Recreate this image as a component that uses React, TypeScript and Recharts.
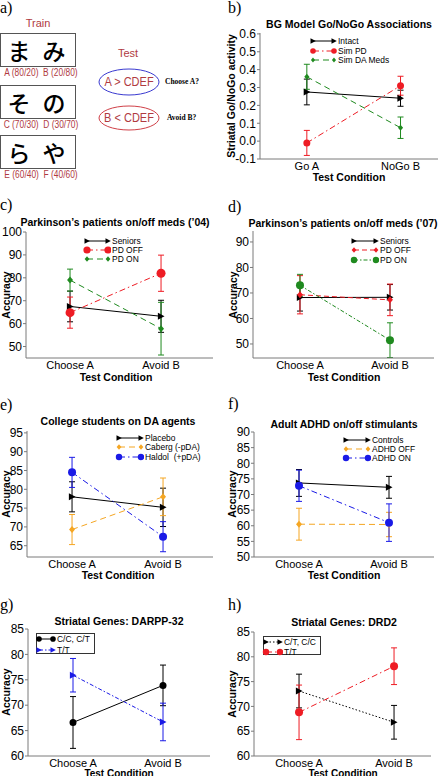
import { LineChart, Line, XAxis, YAxis, ErrorBar } from 'recharts';

const FONT = '"Liberation Sans", Arial, Helvetica, sans-serif';
const SERIF = '"Liberation Serif", "Times New Roman", serif';
const FRAME = '#7a7a7a';
const BLACK = '#000000';
const RED = '#ee1c24';
const GREEN = '#1f8a1f';
const ORANGE = '#f5a623';
const BLUE = '#1a1ae6';
const BRICK = '#b03a3f';

// panel a
const trainPairs = [['ま', 'み'], ['そ', 'の'], ['ら', 'や']];
const trainLabels = ['A (80/20)  B (20/80)', 'C (70/30)  D (30/70)', 'E (60/40)  F (40/60)'];
const testRules = ['A > CDEF', 'B < CDEF'];
const testQuestions = ['Choose A?', 'Avoid B?'];

// panel b
const bCats = ['Go A', 'NoGo B'];
const bTicks = [-0.1, 0, 0.1, 0.2, 0.3, 0.4, 0.5, 0.6];
const bIntact = [0.275, 0.24];
const bIntactErr = [0.072, 0.045];
const bSimPD = [-0.01, 0.31];
const bSimPDErr = [0.07, 0.053];
const bSimDA = [0.36, 0.075];
const bSimDAErr = [0.07, 0.06];

const choiceCats = ['Choose A', 'Avoid B'];

// panel c
const cTicks = [50, 60, 70, 80, 90, 100];
const cSeniors = [67.5, 63.2];
const cSeniorsErr = [6.7, 7.0];
const cPdOff = [64.8, 82];
const cPdOffErr = [6.8, 7.9];
const cPdOn = [79, 57.8];
const cPdOnErr = [4.8, 11.5];

// panel d
const dTicks = [50, 60, 70, 80, 90];
const dSeniors = [68.2, 68.3];
const dSeniorsErr = [5.3, 5.0];
const dPdOff = [69.3, 67.3];
const dPdOffErr = [7.5, 6.2];
const dPdOn = [73, 51.5];
const dPdOnErr = [4.3, 6.8];

// panel e
const eTicks = [65, 70, 75, 80, 85, 90, 95];
const ePlacebo = [78, 75.2];
const ePlaceboErr = [4, 5.1];
const eCaberg = [69.3, 78];
const eCabergErr = [4, 5];
const eHaldol = [84.5, 67.4];
const eHaldolErr = [4, 4];

// panel f
const fTicks = [50, 55, 60, 65, 70, 75, 80, 85, 90];
const fControls = [73.7, 72.3];
const fControlsErr = [4.3, 3.5];
const fAdhdOff = [60.5, 60.4];
const fAdhdOffErr = [5.1, 3.9];
const fAdhdOn = [72.8, 61];
const fAdhdOnErr = [5, 6];

// panel g
const ghTicks = [60, 65, 70, 75, 80, 85];
const gCC = [66.6, 73.9];
const gCCErr = [5.1, 4];
const gTT = [75.9, 66.7];
const gTTErr = [3.3, 3.7];

// panel h
const hCT = [73.1, 66.8];
const hCTErr = [3.4, 3.4];
const hTT = [68.8, 78.1];
const hTTErr = [5.5, 3.7];

type Shape = 'tri' | 'dot' | 'dia';
type Series = {
  name: string;
  color: string;
  dash?: string;
  shape: Shape;
  size: number;
  values: number[];
  errs: number[];
};

const markerPath = (shape: Shape, cx: number, cy: number, s: number) => {
  if (shape === 'tri') return `M${cx - s * 0.9},${cy - s}L${cx + s},${cy}L${cx - s * 0.9},${cy + s}Z`;
  if (shape === 'dia') return `M${cx},${cy - s}L${cx + s * 0.85},${cy}L${cx},${cy + s}L${cx - s * 0.85},${cy}Z`;
  return `M${cx - s},${cy}a${s},${s} 0 1,0 ${2 * s},0a${s},${s} 0 1,0 ${-2 * s},0`;
};

const Txt = (props: {
  x: number;
  y: number;
  size: number;
  bold?: boolean;
  color?: string;
  family?: string;
  rotate?: boolean;
  sx?: number;
  weight?: number;
  align?: 'left' | 'center';
  children: React.ReactNode;
}) => {
  const { x, y, size, bold, color, family, rotate, sx, weight, align = 'center', children } = props;
  const tx = align === 'center' ? '-50%' : '0';
  return (
    <div
      style={{
        position: 'absolute',
        left: x,
        top: y,
        fontSize: size,
        fontWeight: weight ?? (bold ? 700 : 400),
        color: color || BLACK,
        fontFamily: family || FONT,
        lineHeight: 1,
        whiteSpace: 'pre',
        transformOrigin: align === 'center' ? '50% 50%' : '0 50%',
        transform: `translate(${tx}, -50%)${rotate ? ' rotate(-90deg)' : ''}${sx ? ` scaleX(${sx})` : ''}`,
      }}
    >
      {children}
    </div>
  );
};

const Legend = (props: {
  x: number;
  y: number;
  len: number;
  gap: number;
  series: Series[];
  box?: [number, number, number, number];
}) => {
  const { x, y, len, gap, series, box } = props;
  return (
    <>
      {box && (
        <div
          style={{
            position: 'absolute',
            left: box[0],
            top: box[1],
            width: box[2] - box[0],
            height: box[3] - box[1],
            border: '1px solid #333',
            background: '#fff',
            boxSizing: 'border-box',
          }}
        />
      )}
      {series.map((s, i) => (
        <div key={s.name}>
          <svg
            style={{ position: 'absolute', left: x - 4, top: y + i * gap - 5 }}
            width={len + 7}
            height={10}
          >
            <line x1={4} x2={len + 4} y1={5} y2={5} stroke={s.color} strokeDasharray={s.dash} strokeWidth={1} />
            <path d={markerPath(s.shape, 4, 5, s.size * 0.8)} fill={s.color} />
            <path d={markerPath(s.shape, len + 4, 5, s.size * 0.8)} fill={s.color} />
          </svg>
          <Txt x={x + len + 4} y={y + i * gap} size={8.8} sx={0.96} align="left">
            {s.name}
          </Txt>
        </div>
      ))}
    </>
  );
};

type PanelProps = {
  frame: [number, number, number, number];
  xDomain: [number, number];
  yDomain: [number, number];
  yTicks: number[];
  yFmt?: (v: number) => string;
  cats: string[];
  series: Series[];
};

const Panel = (p: PanelProps) => {
  const [l, t, r, b] = p.frame;
  const w = r - l;
  const h = b - t;
  const data = p.cats.map((_, i) => {
    const row: Record<string, number> = { x: i + 1 };
    p.series.forEach((s, k) => {
      row['v' + k] = s.values[i];
      row['e' + k] = s.errs[i];
    });
    return row;
  });
  return (
    <div style={{ position: 'absolute', left: l - 40, top: t - 10 }}>
      <LineChart width={w + 50} height={h + 30} data={data} margin={{ top: 10, right: 10, left: 0, bottom: 0 }}>
        <XAxis
          dataKey="x"
          type="number"
          domain={p.xDomain}
          allowDataOverflow
          ticks={[1, 2]}
          tickFormatter={(v: number) => p.cats[v - 1]}
          height={20}
          tickSize={0}
          tickMargin={3}
          stroke={FRAME}
          tick={{ fill: BLACK, fontSize: 11, fontFamily: FONT }}
        />
        <XAxis
          xAxisId="top"
          orientation="top"
          dataKey="x"
          type="number"
          domain={p.xDomain}
          allowDataOverflow
          tick={false}
          tickLine={false}
          height={0}
          stroke={FRAME}
        />
        <YAxis
          type="number"
          domain={p.yDomain}
          allowDataOverflow
          ticks={p.yTicks}
          interval={0}
          tickFormatter={p.yFmt}
          width={40}
          tickSize={3}
          tickMargin={1}
          stroke={FRAME}
          tick={{ fill: BLACK, fontSize: 12, fontFamily: FONT }}
        />
        <YAxis
          yAxisId="right"
          orientation="right"
          type="number"
          domain={p.yDomain}
          allowDataOverflow
          tick={false}
          tickLine={false}
          width={0}
          stroke={FRAME}
        />
        {p.series.map((s, k) => (
          <Line
            key={s.name}
            dataKey={'v' + k}
            stroke={s.color}
            strokeDasharray={s.dash}
            strokeWidth={1}
            isAnimationActive={false}
            dot={(d: any) => (
              <path key={`${k}-${d.index}`} d={markerPath(s.shape, d.cx, d.cy, s.size)} fill={s.color} />
            )}
          >
            <ErrorBar dataKey={'e' + k} width={3} stroke={s.color} strokeWidth={1} direction="y" />
          </Line>
        ))}
      </LineChart>
    </div>
  );
};

const DASH = '6 4';
const DASHDOT = '6 3 1.5 3';

const bSeries: Series[] = [
  { name: 'Intact', color: BLACK, shape: 'tri', size: 3.5, values: bIntact, errs: bIntactErr },
  { name: 'Sim PD', color: RED, dash: DASHDOT, shape: 'dot', size: 3.5, values: bSimPD, errs: bSimPDErr },
  { name: 'Sim DA Meds', color: GREEN, dash: DASH, shape: 'dia', size: 3, values: bSimDA, errs: bSimDAErr },
];
const cSeries: Series[] = [
  { name: 'Seniors', color: BLACK, shape: 'tri', size: 3.5, values: cSeniors, errs: cSeniorsErr },
  { name: 'PD OFF', color: RED, dash: DASHDOT, shape: 'dot', size: 4.5, values: cPdOff, errs: cPdOffErr },
  { name: 'PD ON', color: GREEN, dash: DASH, shape: 'dia', size: 3.5, values: cPdOn, errs: cPdOnErr },
];
const dSeries: Series[] = [
  { name: 'Seniors', color: BLACK, shape: 'tri', size: 3.5, values: dSeniors, errs: dSeniorsErr },
  { name: 'PD OFF', color: RED, dash: '5 3', shape: 'dia', size: 3.5, values: dPdOff, errs: dPdOffErr },
  { name: 'PD ON', color: GREEN, dash: '4 2 1.5 2', shape: 'dot', size: 4, values: dPdOn, errs: dPdOnErr },
];
const eSeries: Series[] = [
  { name: 'Placebo', color: BLACK, shape: 'tri', size: 3.5, values: ePlacebo, errs: ePlaceboErr },
  { name: 'Caberg (-pDA)', color: ORANGE, dash: DASH, shape: 'dia', size: 3.5, values: eCaberg, errs: eCabergErr },
  { name: 'Haldol  (+pDA)', color: BLUE, dash: DASHDOT, shape: 'dot', size: 4, values: eHaldol, errs: eHaldolErr },
];
const fSeries: Series[] = [
  { name: 'Controls', color: BLACK, shape: 'tri', size: 3.5, values: fControls, errs: fControlsErr },
  { name: 'ADHD OFF', color: ORANGE, dash: DASH, shape: 'dia', size: 3.5, values: fAdhdOff, errs: fAdhdOffErr },
  { name: 'ADHD ON', color: BLUE, dash: DASHDOT, shape: 'dot', size: 4, values: fAdhdOn, errs: fAdhdOnErr },
];
const gSeries: Series[] = [
  { name: 'C/C, C/T', color: BLACK, shape: 'dot', size: 3.5, values: gCC, errs: gCCErr },
  { name: 'T/T', color: BLUE, dash: '4 2 1.5 2', shape: 'tri', size: 3.5, values: gTT, errs: gTTErr },
];
const hSeries: Series[] = [
  { name: 'C/T, C/C', color: BLACK, dash: '1.5 2', shape: 'tri', size: 3.5, values: hCT, errs: hCTErr },
  { name: 'T/T', color: RED, dash: DASHDOT, shape: 'dot', size: 4, values: hTT, errs: hTTErr },
];

const KANA = '"Noto Sans CJK JP", sans-serif';

const PanelA = () => (
  <>
    <Txt x={128} y={53} size={11} color={BRICK}>Test</Txt>
    <Txt x={38} y={23} size={11} color={BRICK}>Train</Txt>
    {trainPairs.map((pair, i) => {
      const top = [33, 85, 135][i];
      return (
        <div key={i}>
          <div
            style={{
              position: 'absolute',
              left: 0,
              top,
              width: 76,
              height: 34,
              border: '1.5px solid #555',
              boxSizing: 'border-box',
            }}
          />
          <Txt x={19} y={top + 17} size={23} family={KANA} weight={500}>{pair[0]}</Txt>
          <Txt x={54} y={top + 17} size={23} family={KANA} weight={500}>{pair[1]}</Txt>
          <Txt x={41} y={top + 40} size={10} sx={0.84} color={BRICK}>{trainLabels[i]}</Txt>
        </div>
      );
    })}
    <svg style={{ position: 'absolute', left: 95, top: 64 }} width={70} height={72}>
      <ellipse cx={34} cy={18} rx={30} ry={13} fill="none" stroke="#3a3ad0" strokeWidth={1} />
      <ellipse cx={34} cy={54} rx={30} ry={12} fill="none" stroke="#d04048" strokeWidth={1} />
    </svg>
    <Txt x={129} y={82} size={12.5} sx={0.88} color={BRICK}>{testRules[0]}</Txt>
    <Txt x={129} y={118} size={12.5} sx={0.88} color={BRICK}>{testRules[1]}</Txt>
    <Txt x={165} y={82} size={7.5} bold family={SERIF} align="left">{testQuestions[0]}</Txt>
    <Txt x={167} y={118} size={7.5} bold family={SERIF} align="left">{testQuestions[1]}</Txt>
  </>
);

const panelLabels: [string, number, number][] = [
  ['a)', 0, 8],
  ['b)', 228, 8],
  ['c)', 0, 205],
  ['d)', 228, 207],
  ['e)', 0, 405],
  ['f)', 228, 404],
  ['g)', 0, 605],
  ['h)', 228, 605],
];

export default function App() {
  return (
    <div
      style={{
        position: 'absolute',
        left: 0,
        top: 0,
        width: 442,
        height: 776,
        background: '#fff',
        overflow: 'hidden',
        fontFamily: FONT,
      }}
    >
      {panelLabels.map(([s, x, y]) => (
        <Txt key={s} x={x} y={y} size={16} family={SERIF} align="left">{s}</Txt>
      ))}
      <PanelA />

      {/* b */}
      <Panel frame={[260, 33, 438, 159]} xDomain={[0.5, 2.4]} yDomain={[-0.1, 0.605]} yTicks={bTicks}
        yFmt={(v) => v.toFixed(1)} cats={bCats} series={bSeries} />
      <Txt x={349} y={24} size={10.5} bold>BG Model Go/NoGo Associations</Txt>
      <Txt x={231} y={96} size={10.5} bold rotate>Striatal Go/NoGo activity</Txt>
      <Txt x={349} y={177} size={10.5} bold>Test Condition</Txt>
      <Legend x={313} y={41} len={21} gap={9.5} series={bSeries} />

      {/* c */}
      <Panel frame={[26, 232, 213, 358]} xDomain={[0.516, 2.571]} yDomain={[45, 100]} yTicks={cTicks}
        cats={choiceCats} series={cSeries} />
      <Txt x={115} y={222} size={10.5} bold>Parkinson’s patients on/off meds (’04)</Txt>
      <Txt x={6} y={295} size={10.5} bold rotate>Accuracy</Txt>
      <Txt x={116} y={377} size={10.5} bold>Test Condition</Txt>
      <Legend x={87} y={241} len={21} gap={9.2} series={cSeries} />

      {/* d */}
      <Panel frame={[253, 231, 434, 358]} xDomain={[0.478, 2.489]} yDomain={[44.5, 94.3]} yTicks={dTicks}
        cats={choiceCats} series={dSeries} />
      <Txt x={343} y={223} size={10.5} bold>Parkinson’s patients on/off meds (’07)</Txt>
      <Txt x={233} y={295} size={10.5} bold rotate>Accuracy</Txt>
      <Txt x={344} y={377} size={10.5} bold>Test Condition</Txt>
      <Legend x={354} y={241} len={22} gap={9.3} series={dSeries} />

      {/* e */}
      <Panel frame={[27, 431, 213, 557]} xDomain={[0.505, 2.549]} yDomain={[62, 95.5]} yTicks={eTicks}
        cats={choiceCats} series={eSeries} />
      <Txt x={118} y={421} size={10.5} bold>College students on DA agents</Txt>
      <Txt x={6} y={494} size={10.5} bold rotate>Accuracy</Txt>
      <Txt x={118} y={575} size={10.5} bold>Test Condition</Txt>
      <Legend x={119} y={438} len={22} gap={9.3} series={eSeries} />

      {/* f */}
      <Panel frame={[254, 432, 434, 557]} xDomain={[0.5, 2.5]} yDomain={[50, 90]} yTicks={fTicks}
        cats={choiceCats} series={fSeries} />
      <Txt x={344} y={424} size={10.5} bold>Adult ADHD on/off stimulants</Txt>
      <Txt x={232} y={494} size={10.5} bold rotate>Accuracy</Txt>
      <Txt x={344} y={575} size={10.5} bold>Test Condition</Txt>
      <Legend x={346} y={440} len={22} gap={9.2} series={fSeries} />

      {/* g */}
      <Panel frame={[28, 629, 210, 756]} xDomain={[0.5, 2.522]} yDomain={[60, 85]} yTicks={ghTicks}
        cats={choiceCats} series={gSeries} />
      <Txt x={119} y={621} size={10.5} bold>Striatal Genes: DARPP-32</Txt>
      <Txt x={6} y={692} size={10.5} bold rotate>Accuracy</Txt>
      <Txt x={119} y={773.5} size={10} bold>Test Condition</Txt>
      <Legend x={39} y={639} len={14} gap={11} series={gSeries} box={[36, 633, 95, 654]} />

      {/* h */}
      <Panel frame={[254, 632, 431, 756]} xDomain={[0.526, 2.389]} yDomain={[60, 85]} yTicks={ghTicks}
        cats={choiceCats} series={hSeries} />
      <Txt x={344} y={622} size={10.5} bold>Striatal Genes: DRD2</Txt>
      <Txt x={232} y={694} size={10.5} bold rotate>Accuracy</Txt>
      <Txt x={343} y={773.5} size={10} bold>Test Condition</Txt>
      <Legend x={266} y={642} len={14} gap={9.5} series={hSeries} box={[263, 636, 321, 655]} />
    </div>
  );
}
